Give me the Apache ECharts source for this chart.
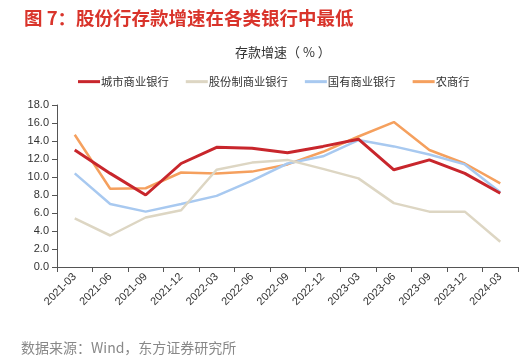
<!DOCTYPE html>
<html><head><meta charset="utf-8">
<script src="https://cdn.jsdelivr.net/npm/echarts@6/dist/echarts.min.js"></script>
<style>html,body{margin:0;padding:0;background:#fff}#c{width:525px;height:357px}</style>
</head><body><div id="c"></div>
<script>
var categories = ['2021-03','2021-06','2021-09','2021-12','2022-03','2022-06','2022-09','2022-12','2023-03','2023-06','2023-09','2023-12','2024-03'];
var cityBanks = [13.0,10.4,8.0,11.5,13.3,13.2,12.7,13.4,14.2,10.8,11.9,10.4,8.2];
var jointStock = [5.4,3.5,5.5,6.3,10.8,11.6,11.9,10.9,9.85,7.1,6.15,6.15,2.8];
var stateOwned = [10.4,7.0,6.15,7.0,7.9,9.6,11.5,12.3,14.1,13.4,12.5,11.4,8.3];
var ruralBanks = [14.7,8.7,8.75,10.5,10.4,10.6,11.4,12.8,14.5,16.1,13.0,11.5,9.3];
var seriesNames = ['城市商业银行','股份制商业银行','国有商业银行','农商行'];
var colors = ['#c8262c','#ddd6c3','#a8c9f0','#f5a05e'];
var font = "'Noto Sans CJK SC','Noto Sans',sans-serif";
var chart = echarts.init(document.getElementById('c'));
function mk(i, data, w){
  return {name: seriesNames[i], type:'line', data:data, symbol:'none', smooth:false,
    lineStyle:{color:colors[i], width:w}, itemStyle:{color:colors[i]}, z: 10-i};
}
chart.setOption({
  animation:false,
  textStyle:{fontFamily:font},
  title:[
    {text:'图 7：股份行存款增速在各类银行中最低', left:19, top:4, textStyle:{color:'#d9342b', fontSize:18.5, fontWeight:'bold', fontFamily:font}},
    {text:'存款增速（ % ）', left:230, top:41, textStyle:{color:'#333', fontSize:13, fontWeight:'normal', fontFamily:font}},
    {text:'数据来源：Wind，东方证券研究所', left:16, top:336, textStyle:{color:'#888', fontSize:14, fontWeight:'normal', fontFamily:font}}
  ],
  legend:{top:71, left:73, itemWidth:22, itemHeight:3, itemGap:17, icon:'rect',
    textStyle:{color:'#333', fontSize:11.3, fontFamily:font, padding:[0,0,0,-4]},
    data:seriesNames},
  grid:{left:57, right:7, top:105, bottom:90},
  xAxis:{type:'category', data:categories, boundaryGap:true,
    axisLine:{lineStyle:{color:'#555'}}, axisTick:{show:true, alignWithLabel:false, lineStyle:{color:'#555'}},
    axisLabel:{rotate:45, color:'#333', fontSize:11, fontFamily:'Arial, Liberation Sans, sans-serif', margin:8, interval:0}},
  yAxis:{type:'value', min:0, max:18, interval:2,
    axisLine:{show:true, lineStyle:{color:'#555'}}, axisTick:{show:true, lineStyle:{color:'#555'}},
    splitLine:{show:false},
    axisLabel:{color:'#333', fontSize:11, fontFamily:'Arial, Liberation Sans, sans-serif', formatter:function(v){return v.toFixed(1);}}},
  series:[mk(0,cityBanks,3), mk(1,jointStock,2.5), mk(2,stateOwned,2.5), mk(3,ruralBanks,2.5)]
});
</script></body></html>
